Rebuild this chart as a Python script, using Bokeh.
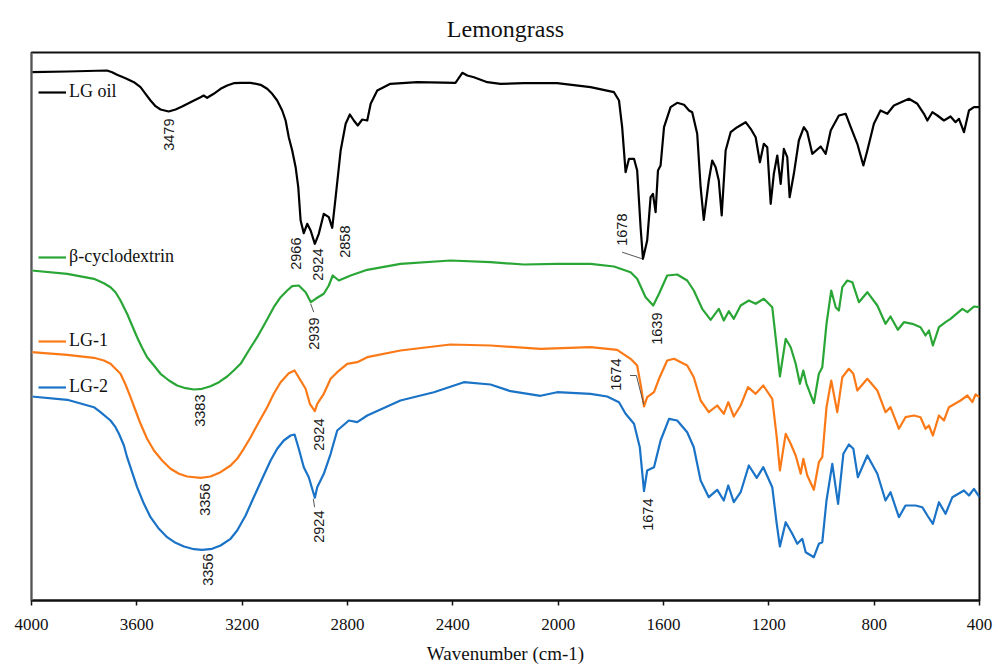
import math
from bokeh.plotting import figure
from bokeh.models import (Range1d, FixedTicker, Span, Legend, LegendItem, ColumnDataSource)
from bokeh.core.properties import value
from bokeh.embed import file_html
from bokeh.resources import INLINE

# ---------------- data (wavenumber cm-1, transmittance a.u. with offsets) ----------------
oil_wn = [4000, 3864, 3713, 3694, 3675, 3643, 3611, 3586, 3567, 3548, 3529, 3510, 3479, 3453,
          3428, 3383, 3358, 3346, 3333, 3308, 3282, 3257, 3232, 3206, 3168, 3130, 3105, 3086,
          3067, 3048, 3035, 3023, 3010, 2997, 2987, 2978, 2966, 2953, 2940, 2924,
          2909, 2890, 2871, 2858, 2845, 2826, 2807, 2791, 2776, 2761, 2744, 2725, 2712, 2687,
          2637, 2535, 2390, 2364, 2345, 2320, 2269, 2219, 2130, 2004, 1877, 1788, 1769, 1757,
          1744, 1731, 1712, 1700, 1687, 1678, 1662, 1649, 1640, 1630, 1621, 1611, 1598, 1573,
          1548, 1522, 1503, 1491, 1472, 1459, 1447, 1428, 1415, 1402, 1390, 1379, 1364, 1345,
          1320, 1288, 1269, 1250, 1234, 1219, 1206, 1193, 1181, 1168, 1155, 1143, 1130, 1121,
          1105, 1086, 1067, 1054, 1035, 1003, 984, 965, 934, 908, 889, 864, 841, 826, 801, 776,
          750, 725, 668, 636, 611, 598, 579, 560, 535, 510, 491, 478, 459, 440, 421, 400]
oil_t = [528.3, 529, 530, 528.3, 525.7, 522.3, 518.3, 513.3, 506.7, 500, 494.3, 491, 489, 491,
         494, 500, 503.3, 505, 502.7, 506.7, 511.7, 515, 517.3, 517.7, 517.7, 515.7, 511.7, 506.7,
         500, 490, 480, 463.3, 450, 433.3, 413.3, 380, 367.3, 376.7, 370, 356.7,
         366.7, 386.7, 383.3, 372.7, 403.3, 450, 476.7, 486, 480, 475, 481, 480, 496.7, 510,
         516.7, 518.3, 517.7, 527.7, 525, 523.3, 518.3, 516.7, 517.3, 517.3, 513.3, 508.3, 500, 473.3,
         428.3, 441.7, 441.7, 430, 373.3, 341.7, 360, 403.3, 406.7, 388.3, 430, 435, 473.3, 493.3,
         497.7, 495.7, 490, 488.3, 466.7, 413.3, 380.7, 420, 440, 433.3, 420, 385, 450, 468.3,
         473.3, 478.3, 471.7, 463.3, 438.3, 456.7, 453.3, 396.7, 426.7, 445, 416.7, 451.7, 443.3, 403.3,
         426.7, 460, 473.3, 468.3, 446.7, 454, 446.7, 470, 485, 486.7, 473.3, 456.7, 435, 450, 476.7, 490,
         486.7, 495, 501.7, 496.7, 486.7, 480, 488.3, 485, 480, 484, 478.3, 481.7, 468.3, 490, 493.3, 493.3]

bcd_wn = [4000, 3864, 3763, 3725, 3700, 3681, 3662, 3637, 3618, 3599, 3580, 3561, 3535, 3510,
          3478, 3447, 3415, 3383, 3352, 3320, 3288, 3257, 3232, 3206, 3175, 3143, 3111, 3080,
          3054, 3029, 3010, 2985, 2959, 2939, 2921, 2890, 2871, 2856, 2833, 2788, 2725,
          2599, 2409, 2257, 2130, 2004, 1877, 1788, 1725, 1700, 1668, 1639, 1617, 1586, 1548,
          1510, 1485, 1453, 1421, 1390, 1371, 1352, 1333, 1307, 1276, 1250, 1219, 1187, 1170,
          1158, 1136, 1117, 1098, 1082, 1069, 1057, 1029, 1010, 997, 981, 963, 946, 934, 921,
          902, 883, 858, 826, 788, 757, 738, 710, 687, 655, 624, 605, 592, 577, 554, 529, 510,
          465, 446, 421, 400]
bcd_t = [330, 326.7, 321.7, 317.3, 313.3, 308.3, 300, 286.7, 275, 263.3, 252.7, 243.3, 235, 226.7,
         220, 215, 212.3, 211, 211.7, 214.3, 218.3, 224, 230, 236.7, 250, 263.3, 278.3, 293.3,
         303.3, 310, 314.3, 315, 308.3, 298.3, 301.7, 306.7, 315, 325, 320, 325, 330.7,
         336.7, 340, 338.3, 336, 336.7, 336.7, 334, 328.3, 321.7, 303.3, 295, 306.7, 325, 326,
         320, 310, 291.7, 280.7, 291.7, 280, 289.3, 281.7, 295, 300, 296.7, 301.7, 293.3, 253.3,
         224, 261.7, 253.3, 236.7, 216.7, 230, 216.7, 197.3, 226.7, 233.3, 276.7, 310, 293.3, 290, 313.3,
         320, 318.3, 298.3, 308.3, 295, 276.7, 284, 270.7, 278.3, 276.7, 273.3, 265, 270, 255, 273.3, 278.3, 281.7,
         291.7, 288.3, 294, 293.3]

lg1_wn = [4000, 3864, 3763, 3725, 3700, 3681, 3662, 3643, 3624, 3605, 3586, 3561, 3535, 3504,
          3472, 3440, 3409, 3358, 3320, 3282, 3244, 3219, 3194, 3168, 3137, 3105, 3080, 3054,
          3023, 3001, 2978, 2959, 2943, 2924, 2915, 2890, 2864, 2839, 2801, 2763,
          2725, 2599, 2409, 2257, 2067, 1877, 1776, 1725, 1700, 1685, 1674, 1662, 1636, 1617,
          1586, 1560, 1510, 1485, 1459, 1428, 1396, 1371, 1354, 1333, 1307, 1279, 1250, 1221,
          1187, 1170, 1158, 1136, 1117, 1098, 1079, 1069, 1054, 1029, 1010, 997, 981, 963, 940,
          921, 896, 879, 864, 826, 788, 757, 738, 706, 681, 649, 624, 605, 592, 577, 554, 535,
          516, 472, 446, 427, 415, 400]
lg1_t = [248.3, 245.7, 242.7, 240, 236.7, 231.7, 226.7, 216, 203.3, 190, 176.7, 161.7, 150, 140,
         131.7, 126.7, 124, 122.7, 124, 128.3, 135, 141.7, 151.7, 163.3, 178.3, 193.3, 206.7, 218.3,
         227.3, 230, 220, 211.7, 196.7, 189.3, 196.7, 206.7, 221.7, 228.3, 236.7, 238.3,
         243.3, 250, 256, 255, 251.7, 253.3, 250.7, 241.7, 235, 213.3, 194, 203.3, 208.3, 221.7,
         240, 241.7, 235, 223.3, 200, 188.3, 195, 186.7, 198.3, 184, 195, 213.3, 206.7, 215,
         201.7, 163.3, 130, 166.7, 156.7, 145, 126.7, 141.7, 125, 110.7, 138.3, 143.3, 193.3, 220, 188.3,
         223.3, 231.7, 226.7, 210, 221.7, 210, 188.3, 193.3, 171.7, 183.3, 185, 183.3, 171.7, 175, 165, 185, 180,
         193.3, 200, 205, 198.3, 206, 203.3]

lg2_wn = [4000, 3864, 3763, 3738, 3700, 3681, 3668, 3649, 3637, 3618, 3599, 3573, 3548, 3516,
          3485, 3453, 3421, 3383, 3352, 3314, 3282, 3244, 3219, 3187, 3156, 3124, 3092, 3067,
          3042, 3016, 3001, 2985, 2966, 2947, 2924, 2915, 2890, 2864, 2839, 2795, 2763,
          2725, 2599, 2472, 2358, 2257, 2181, 2067, 2004, 1877, 1814, 1769, 1744, 1712, 1690,
          1674, 1662, 1636, 1611, 1579, 1548, 1510, 1485, 1459, 1428, 1396, 1371, 1354, 1333,
          1307, 1276, 1246, 1221, 1187, 1170, 1158, 1136, 1111, 1092, 1073, 1060, 1029, 1010,
          997, 981, 959, 937, 917, 896, 879, 862, 826, 788, 757, 738, 706, 681, 643, 617, 598,
          577, 554, 529, 503, 459, 440, 421, 400]
lg2_t = [204, 200.7, 193.3, 188.3, 180, 173.3, 166.7, 155, 143.3, 128.3, 113.3, 96.7, 83.3, 71.7,
         63.3, 57.7, 54, 51.3, 50.7, 51.7, 55, 61.7, 70, 85, 103.3, 121.7, 140, 151.7,
         160, 165, 166, 151.7, 133.3, 123.3, 102.7, 113.3, 126.7, 146.7, 170, 180, 178.3,
         185, 200, 208.3, 218.3, 216, 209.3, 204.7, 208.3, 206.7, 204, 198.3, 186.7, 176.7, 153.3,
         109.3, 130, 133.3, 160, 181.7, 180, 168.3, 153.3, 120, 103.3, 110.7, 100, 115, 98.3,
         108.3, 135, 122.7, 133.3, 113.3, 76.7, 54, 78.3, 66.7, 56.7, 61.7, 48.3, 43.3, 56.7,
         58.3, 100, 136.7, 96.7, 146.7, 156, 151.7, 123.3, 145, 126.7, 100, 108.3, 83.3, 95, 95, 93.3, 85,
         76.7, 98.3, 86.7, 103.3, 110, 105, 111.7, 103.3]

# peak annotations (rotated labels): position of label top, text
ann_wn = [3479, 2994, 2911, 2811, 1757, 2928, 1624, 3362, 2909, 3343, 1782, 2909, 3330, 1659]
ann_t = [482, 363, 352, 375, 387, 283, 288, 206, 182, 117, 242, 90, 47, 102]
ann_text = ["3479", "2966", "2924", "2858", "1678", "2939", "1639", "3383", "2924", "3356",
            "1674", "2924", "3356", "1674"]

# leader lines
lead_wn = [[1757, 1681], [2940, 2928], [1727, 1703, 1675], [2930, 2925]]
lead_t = [[348.3, 341.7], [296.7, 288.3], [225, 225, 196], [101.7, 93.3]]

series_names = ["LG oil", "\u03b2-cyclodextrin", "LG-1", "LG-2"]
series_colors = ["#000000", "#2aa636", "#fb7a17", "#1a73c6"]
x_ticks = [4000, 3600, 3200, 2800, 2400, 2000, 1600, 1200, 800, 400]

# ---------------- figure ----------------
p = figure(width=993, height=670, output_backend="svg", toolbar_location=None,
           x_range=Range1d(4000, 400), y_range=Range1d(0, 548),
           min_border_left=31, min_border_right=14, min_border_top=52, min_border_bottom=70)
p.background_fill_color = "white"
p.border_fill_color = "white"
p.outline_line_color = "#111111"
p.outline_line_width = 2
p.xgrid.visible = False
p.ygrid.visible = False
p.yaxis.visible = False

p.title.text = "Lemongrass"
p.title.align = "center"
p.title.text_font = "Liberation Serif"
p.title.text_font_size = "24px"
p.title.text_font_style = "normal"
p.title.text_color = "#111111"
p.title.standoff = 22

ax = p.xaxis[0]
ax.ticker = FixedTicker(ticks=x_ticks)
ax.axis_line_color = "#111111"
ax.axis_line_width = 2
ax.major_tick_line_color = "#111111"
ax.major_tick_line_width = 1.5
ax.major_tick_out = 5
ax.major_tick_in = 0
ax.minor_tick_line_color = None
ax.major_label_text_font = "Liberation Serif"
ax.major_label_text_font_size = "17px"
ax.major_label_text_color = "#111111"
ax.major_label_standoff = 13
ax.axis_label = "Wavenumber (cm-1)"
ax.axis_label_text_font = "Liberation Serif"
ax.axis_label_text_font_size = "19px"
ax.axis_label_text_font_style = "normal"
ax.axis_label_text_color = "#111111"
ax.axis_label_standoff = 10

p.add_layout(Span(location=4000, dimension="height", line_color="#9a9a9a", line_width=2))

renderers = []
for wn, t, col in [(oil_wn, oil_t, series_colors[0]), (bcd_wn, bcd_t, series_colors[1]),
                   (lg1_wn, lg1_t, series_colors[2]), (lg2_wn, lg2_t, series_colors[3])]:
    r = p.line(wn, t, line_color=col, line_width=2.2, line_join="round")
    renderers.append(r)

p.multi_line(lead_wn, lead_t, line_color="#555555", line_width=1)

src = ColumnDataSource(dict(x=ann_wn, y=ann_t, text=ann_text))
p.text(x="x", y="y", text="text", source=src, angle=math.pi / 2,
       text_align="right", text_baseline="middle", text_font=value("Liberation Sans"),
       text_font_size="14.5px", text_color="#1a1a1a")

# legend entries placed beside each curve
legend_y = [498, 333, 249, 203]
for r, name, ly in zip(renderers, series_names, legend_y):
    lg = Legend(items=[LegendItem(label=name, renderers=[r])], location=(7, ly),
                background_fill_alpha=0, border_line_alpha=0, padding=0, margin=0,
                spacing=0, glyph_width=28, glyph_height=20, label_height=20,
                label_standoff=3, label_text_font="Liberation Serif",
                label_text_font_size="18px", label_text_color="#111111")
    p.add_layout(lg)

open("out.html", "w").write(file_html(p, INLINE))
